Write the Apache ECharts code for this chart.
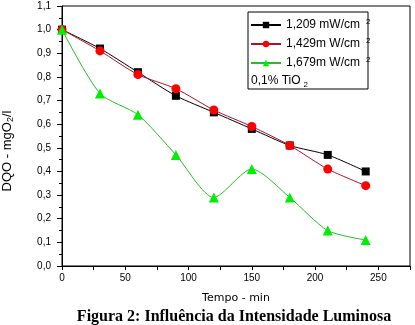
<!DOCTYPE html>
<html><head><meta charset="utf-8">
<script src="https://cdn.jsdelivr.net/npm/echarts@6/dist/echarts.min.js"></script>
<style>html,body{margin:0;padding:0;background:#fff}#c{width:415px;height:325px}</style>
</head><body><div id="c"></div>
<script>
const times = [0, 30, 60, 90, 120, 150, 180, 210, 240];
const seriesNames = ['1,209 mW/cm', '1,429m W/cm', '1,679m W/cm'];
const s1209 = [1.00, 0.92, 0.82, 0.72, 0.65, 0.58, 0.51, 0.47, 0.40];
const s1429 = [1.00, 0.91, 0.81, 0.75, 0.66, 0.59, 0.51, 0.41, 0.34];
const s1679 = [1.00, 0.73, 0.64, 0.47, 0.29, 0.41, 0.29, 0.15, 0.11];
const xTickLabels = ['0', '50', '100', '150', '200', '250'];
const yTickLabels = ['0,0','0,1','0,2','0,3','0,4','0,5','0,6','0,7','0,8','0,9','1,0','1,1'];

const pairs = v => times.map((t, i) => [t, v[i]]);
const font = 'Liberation Sans, Arial, sans-serif';
const wide = 'DejaVu Sans, Verdana, sans-serif';
const chart = echarts.init(document.getElementById('c'), null, {renderer: 'canvas'});
chart.setOption({
  animation: false,
  backgroundColor: '#fff',
  grid: {left: 62, right: 5, top: 6, bottom: 59, show: true, borderColor: '#000', borderWidth: 1},
  xAxis: {
    type: 'value', min: 0, max: 275, interval: 25,
    name: 'Tempo - min', nameLocation: 'middle', nameGap: 27,
    nameTextStyle: {fontFamily: wide, fontSize: 11, color: '#000'},
    axisLine: {lineStyle: {color: '#000', width: 1}},
    axisTick: {show: true, length: 4, lineStyle: {color: '#000'}},
    axisLabel: {fontFamily: font, fontSize: 10, color: '#000', margin: 7,
      formatter: v => (v % 50 === 0 ? xTickLabels[v / 50] : '')},
    splitLine: {show: false}
  },
  yAxis: {
    type: 'value', min: 0, max: 1.1, interval: 0.1,
    axisLine: {show: true, lineStyle: {color: '#000', width: 1}},
    axisTick: {show: true, length: 5, lineStyle: {color: '#000'}},
    minorTick: {show: true, splitNumber: 2, length: 3, lineStyle: {color: '#000'}},
    axisLabel: {fontFamily: font, fontSize: 10, color: '#000', margin: 11,
      formatter: v => yTickLabels[Math.round(v * 10)]},
    splitLine: {show: false}
  },
  legend: {
    orient: 'vertical', left: 250, top: 18, itemWidth: 30, itemHeight: 8, itemGap: 5,
    padding: 0,
    data: seriesNames,
    formatter: n => '{t|' + n + '}{s|2}',
    textStyle: {fontFamily: font, fontSize: 12, color: '#000',
      rich: {t: {fontFamily: font, fontSize: 12, color: '#000', lineHeight: 13},
             s: {fontFamily: font, fontSize: 8, color: '#000', lineHeight: 8, padding: [0, 0, 6, 6]}}}
  },
  graphic: [
    {type: 'rect', shape: {x: 248, y: 12, width: 120, height: 77}, style: {fill: 'none', stroke: '#000', lineWidth: 1}, silent: true},
    {type: 'text', x: 251, y: 72, style: {text: '{a|0,1% TiO}{b|2}', rich: {a: {fontFamily: font, fontSize: 12, fill: '#000'}, b: {fontFamily: font, fontSize: 8, fill: '#000', padding: [9, 0, 0, 3]}}}},
    {type: 'text', x: 7, y: 151, rotation: Math.PI / 2,
      style: {text: '{a|DQO - mgO}{b|2}{a|/l}', align: 'center', verticalAlign: 'middle',
        rich: {a: {fontFamily: font, fontSize: 13, fill: '#000'}, b: {fontFamily: font, fontSize: 9, fill: '#000', padding: [7, 0, 0, 0]}}}},
    {type: 'text', x: 234, y: 317, style: {text: 'Figura 2: Influência da Intensidade Luminosa', fontFamily: 'Liberation Serif, Times New Roman, serif', fontWeight: 'bold', fontSize: 16, fill: '#000', align: 'center', verticalAlign: 'middle'}}
  ],
  series: [
    {name: seriesNames[0], type: 'line', data: pairs(s1209), smooth: 0.25, symbol: 'rect', symbolSize: 8,
      lineStyle: {color: '#000', width: 1}, itemStyle: {color: '#000'}},
    {name: seriesNames[1], type: 'line', data: pairs(s1429), smooth: 0.25, symbol: 'circle', symbolSize: 9,
      lineStyle: {color: '#b0102a', width: 1}, itemStyle: {color: '#ff0000'}},
    {name: seriesNames[2], type: 'line', data: pairs(s1679), smooth: 0.25, symbol: 'triangle', symbolSize: 10,
      lineStyle: {color: '#22c022', width: 1}, itemStyle: {color: '#00ee00'}}
  ]
});
</script></body></html>
